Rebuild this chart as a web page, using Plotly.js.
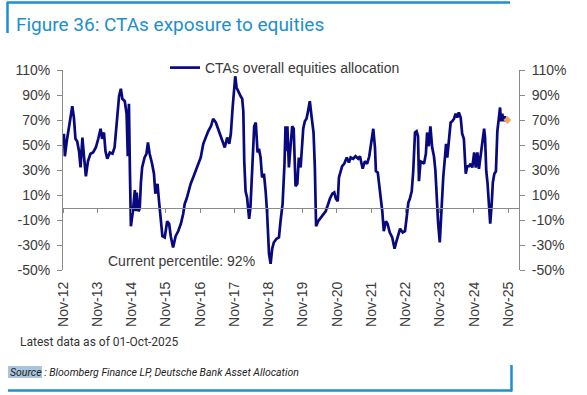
<!DOCTYPE html>
<html>
<head>
<meta charset="utf-8">
<script src="https://cdn.plot.ly/plotly-3.0.1.min.js"></script>
<style>html,body{margin:0;padding:0;background:#fff;}#chart{width:587px;height:395px;}</style>
</head>
<body>
<div id="chart"></div>
<script>
const dates = [
"2012-11-11","2012-11-21","2012-12-09","2013-01-07","2013-02-08","2013-02-25","2013-03-14","2013-04-01","2013-04-21","2013-05-07",
"2013-05-27","2013-06-14","2013-07-03","2013-07-25","2013-08-21","2013-09-18","2013-10-17","2013-11-12","2013-12-07","2013-12-23",
"2014-01-12","2014-01-28","2014-02-16","2014-03-15","2014-04-13","2014-05-05","2014-05-18","2014-06-06","2014-06-22","2014-07-11",
"2014-07-27","2014-08-22","2014-09-10","2014-09-23","2014-10-05","2014-10-15","2014-10-26","2014-11-16","2014-12-07","2014-12-17",
"2014-12-27","2015-01-14","2015-01-28","2015-02-10","2015-02-23","2015-03-21","2015-04-10","2015-04-26","2015-05-14","2015-06-09",
"2015-06-29","2015-07-14","2015-08-06","2015-08-22","2015-09-10","2015-09-27","2015-10-22","2015-11-17","2015-12-08","2015-12-25",
"2016-01-19","2016-02-15","2016-03-13","2016-04-11","2016-05-06","2016-05-22","2016-06-11","2016-06-27","2016-07-25","2016-08-20",
"2016-09-16","2016-10-13","2016-11-09","2016-12-06","2017-01-02","2017-01-27","2017-02-26","2017-03-21","2017-04-19","2017-05-23",
"2017-06-29","2017-07-23","2017-08-18","2017-09-09","2017-09-26","2017-10-15","2017-10-29","2017-11-12","2017-11-26","2017-12-13",
"2018-01-09","2018-01-25","2018-02-06","2018-02-16","2018-03-02","2018-03-18","2018-04-09","2018-04-23","2018-05-14","2018-06-02",
"2018-06-19","2018-07-08","2018-07-23","2018-08-09","2018-08-25","2018-09-14","2018-10-02","2018-10-18","2018-11-07","2018-11-24",
"2018-12-11","2018-12-28","2019-01-26","2019-02-21","2019-03-10","2019-04-01","2019-04-21","2019-05-02","2019-05-12","2019-05-22",
"2019-06-07","2019-06-27","2019-07-12","2019-07-28","2019-08-17","2019-09-05","2019-09-21","2019-10-10","2019-10-20","2019-11-07",
"2019-11-24","2019-12-12","2019-12-28","2020-01-16","2020-02-05","2020-02-25","2020-03-10","2020-03-23","2020-04-14","2020-05-12",
"2020-06-07","2020-07-03","2020-07-22","2020-08-17","2020-09-12","2020-10-03","2020-10-20","2020-11-09","2020-11-22","2020-12-10",
"2020-12-26","2021-01-17","2021-02-13","2021-03-08","2021-03-27","2021-04-22","2021-05-18","2021-06-15","2021-07-04","2021-07-18",
"2021-08-02","2021-08-25","2021-09-19","2021-10-11","2021-11-07","2021-11-23","2021-12-11","2021-12-21","2022-01-10","2022-01-25",
"2022-02-11","2022-02-27","2022-03-15","2022-04-07","2022-04-24","2022-05-18","2022-06-13","2022-07-08","2022-07-28","2022-08-16",
"2022-09-05","2022-10-03","2022-10-27","2022-11-14","2022-12-02","2022-12-18","2023-01-07","2023-01-23","2023-02-11","2023-02-28",
"2023-03-15","2023-03-25","2023-04-11","2023-05-03","2023-05-18","2023-06-07","2023-06-20","2023-07-08","2023-07-25","2023-08-13",
"2023-09-01","2023-09-16","2023-10-03","2023-10-16","2023-11-02","2023-11-12","2023-11-25","2023-12-09","2023-12-26","2024-01-08",
"2024-01-21","2024-02-09","2024-02-26","2024-03-14","2024-04-02","2024-04-19","2024-05-07","2024-05-23","2024-06-12","2024-06-28",
"2024-07-16","2024-08-05","2024-08-21","2024-09-10","2024-09-26","2024-10-14","2024-11-03","2024-11-20","2024-12-07","2024-12-24",
"2025-01-13","2025-01-28","2025-02-17","2025-02-27","2025-03-12","2025-03-25","2025-04-13","2025-04-23","2025-05-09","2025-05-21",
"2025-06-06","2025-06-23","2025-07-08","2025-07-17","2025-08-06","2025-08-16","2025-08-29","2025-09-14","2025-09-27","2025-10-12",
"2025-10-23"
];
const allocation = [
59,41,52,67,81,72,55,53,45,32,
56,40,25,37,43,44,48,55,63,55,
60,45,39,44,43,48,61,77,89,95,
87,85,75,41,83,32,-15,-3,14,-3,
12,-3,-1,20,32,40,43,52,43,35,
27,11,19,5,-11,-23,-24,-11,-13,-23,
-32,-23,-19,-13,-5,3,7,12,19,24,
29,35,40,51,57,61,65,71,68,60,
53,48,56,51,59,80,93,105,96,93,
89,87,77,37,13,8,-9,0,37,65,
68,44,47,40,24,27,13,-5,-37,-45,
-33,-28,-25,-24,-11,3,35,65,45,65,
32,56,65,63,17,19,40,32,45,63,
69,71,77,85,72,60,32,-15,-11,-8,
-5,-3,1,7,11,12,7,5,24,29,
33,35,40,36,40,39,41,39,41,36,
31,37,35,41,57,63,48,29,28,19,
8,-3,-19,-11,-13,-20,-24,-33,-27,-21,
-17,-20,-19,-8,4,7,13,29,60,61,
57,21,37,36,35,43,60,49,65,48,
41,30,0,-13,-28,-13,0,24,39,51,
40,55,68,69,71,75,72,76,72,59,
55,27,33,33,35,32,44,32,44,31,
44,53,63,56,29,20,-3,-13,3,20,
27,29,61,69,80,69,75,69,73,69,
70
];
const latestDate = ["2025-10-23"];
const latestValue = [70];
const tickDates = ["2012-11-01","2013-11-01","2014-11-01","2015-11-01","2016-11-01","2017-11-01","2018-11-01",
  "2019-11-01","2020-11-01","2021-11-01","2022-11-01","2023-11-01","2024-11-01","2025-11-01"];
const tickLabels = ["Nov-12","Nov-13","Nov-14","Nov-15","Nov-16","Nov-17","Nov-18",
  "Nov-19","Nov-20","Nov-21","Nov-22","Nov-23","Nov-24","Nov-25"];
const yTicks = [-50,-30,-10,10,30,50,70,90,110];
const yLabels = yTicks.map(v => v + "%");

const BLUE = "#1b8fd0";
const TXT = "#3a3a3a";
const AX = "#8a8a8a";
const xRange = ["2012-11-01","2026-02-24"];
const yRange = [-50,110];

const traces = [
  {x: dates, y: allocation, type: "scatter", mode: "lines", name: "CTAs overall equities allocation",
   line: {color: "#08087f", width: 2.7}, xaxis: "x", yaxis: "y", hoverinfo: "skip"},
  {x: latestDate, y: latestValue, type: "scatter", mode: "markers", showlegend: false,
   marker: {symbol: "diamond", size: 6, color: "#f5a35c"}, xaxis: "x2", yaxis: "y2", hoverinfo: "skip"}
];

const px = v => (v - 63) / 456;      // paper x from pixel
const py = v => (270 - v) / 200;     // paper y from pixel

const layout = {
  width: 587, height: 395,
  margin: {l: 63, r: 68, t: 70, b: 125, pad: 0},
  paper_bgcolor: "#ffffff", plot_bgcolor: "rgba(0,0,0,0)",
  font: {family: "Liberation Sans, Arial, sans-serif", size: 14, color: TXT},
  title: {text: "Figure 36: CTAs exposure to equities", xref: "container", yref: "container",
          x: 16/587, xanchor: "left", y: 1 - 24.5/395, yanchor: "middle",
          font: {family: "Roboto, sans-serif", size: 19, color: BLUE}},
  showlegend: true,
  legend: {orientation: "h", x: px(165), xanchor: "left", y: py(68), yanchor: "middle",
           bgcolor: "rgba(0,0,0,0)", font: {size: 14, color: TXT}, borderwidth: 0},
  xaxis: {type: "date", range: xRange, tickvals: tickDates, ticktext: tickLabels, tickangle: -90,
          showline: false, ticks: "", showgrid: false, zeroline: false, ticklabelstandoff: 8,
          tickfont: {size: 14, color: TXT}},
  xaxis2: {type: "date", range: xRange, overlaying: "x", anchor: "free", position: 50/160,
           tickvals: tickDates, showticklabels: false, ticks: "outside", ticklen: 4, tickcolor: AX,
           showline: true, linecolor: AX, linewidth: 1, showgrid: false, zeroline: false},
  yaxis: {range: yRange, tickvals: yTicks, ticktext: yLabels, ticks: "outside", ticklen: 5, tickcolor: AX,
          showline: true, linecolor: AX, linewidth: 1, showgrid: false, zeroline: false, ticklabelstandoff: 4,
          tickfont: {size: 14, color: TXT}},
  yaxis2: {range: yRange, overlaying: "y", side: "right", anchor: "x", tickvals: yTicks, ticktext: yLabels,
           ticks: "outside", ticklen: 5, tickcolor: AX, showline: true, linecolor: AX, linewidth: 1,
           showgrid: false, zeroline: false, ticklabelstandoff: 4, tickfont: {size: 14, color: TXT}},
  shapes: [
    {type: "line", xref: "paper", yref: "paper", x0: px(7), x1: px(510), y0: py(2.5), y1: py(2.5), line: {color: BLUE, width: 2.5}},
    {type: "line", xref: "paper", yref: "paper", x0: px(7.5), x1: px(7.5), y0: py(2), y1: py(33), line: {color: BLUE, width: 2.5}},
    {type: "rect", xref: "paper", yref: "paper", x0: px(8), x1: px(42), y0: py(366), y1: py(378), fillcolor: "#a9c4dc", line: {width: 0}, layer: "below"},
    {type: "line", xref: "paper", yref: "paper", x0: px(8), x1: px(512), y0: py(390.5), y1: py(390.5), line: {color: BLUE, width: 2.5}},
    {type: "line", xref: "paper", yref: "paper", x0: px(511.5), x1: px(511.5), y0: py(365), y1: py(391.5), line: {color: BLUE, width: 2.5}}
  ],
  annotations: [
    {text: "Current percentile: 92%", xref: "paper", yref: "paper", x: px(181.5), y: py(261),
     xanchor: "center", yanchor: "middle", showarrow: false, font: {size: 14, color: TXT}},
    {text: "Latest data as of 01-Oct-2025", xref: "paper", yref: "paper", x: px(18), y: py(341.5),
     xanchor: "left", yanchor: "middle", showarrow: false, font: {family: "Roboto, sans-serif", size: 12, color: "#333"}},
    {text: "<i>Source : Bloomberg Finance LP, Deutsche Bank Asset Allocation</i>", xref: "paper", yref: "paper", x: px(8), y: py(372.5),
     xanchor: "left", yanchor: "middle", showarrow: false, font: {family: "Roboto, sans-serif", size: 10.5, color: "#222"}}
  ]
};

Plotly.newPlot("chart", traces, layout, {displayModeBar: false, staticPlot: true});
</script>
</body>
</html>
